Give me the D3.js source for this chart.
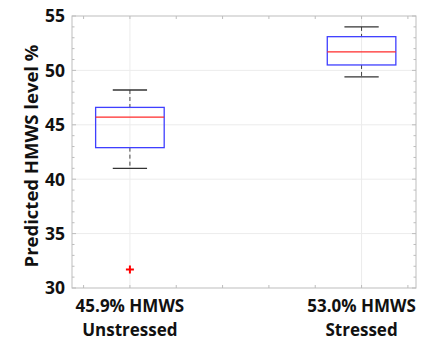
<!DOCTYPE html>
<html>
<head>
<meta charset="utf-8">
<script src="https://cdn.jsdelivr.net/npm/d3@7"></script>
<style>
  body { margin: 0; background: #fff; }
  text { font-family: "Open Sans", sans-serif; font-weight: bold; fill: #111; }
</style>
</head>
<body>
<script>
// Categories (two text lines each)
var groups = ["45.9% HMWS|Unstressed", "53.0% HMWS|Stressed"];
// Box statistics
var whiskerLow  = [41.0, 49.4];
var q1          = [42.9, 50.5];
var medians     = [45.7, 51.7];
var q3          = [46.6, 53.1];
var whiskerHigh = [48.2, 54.0];
var outliers    = [[31.7], []];
var yTicks      = [30, 35, 40, 45, 50, 55];

var width = 422, height = 341;
var margin = {top: 16, right: 6, bottom: 53, left: 72};

var svg = d3.select("body").append("svg")
    .attr("width", width)
    .attr("height", height);

// x is numeric, MATLAB-style: groups sit at 1 and 2
var x = d3.scaleLinear()
    .domain([0.75, 2.235])
    .range([margin.left, width - margin.right]);

var y = d3.scaleLinear()
    .domain([30, 55])
    .range([height - margin.bottom, margin.top]);

var frameColor = "#bdbdbd";
var gridColor = "#ececec";

//grid lines
svg.append("g").selectAll("line")
    .data(yTicks.slice(1, -1))
    .enter().append("line")
      .attr("x1", x.range()[0]).attr("x2", x.range()[1])
      .attr("y1", function(d) { return y(d); })
      .attr("y2", function(d) { return y(d); })
      .attr("stroke", gridColor);

svg.append("g").selectAll("line")
    .data([1, 2])
    .enter().append("line")
      .attr("x1", function(d) { return x(d); })
      .attr("x2", function(d) { return x(d); })
      .attr("y1", y(30)).attr("y2", y(55))
      .attr("stroke", gridColor);

// minor ticks
var yMinor = d3.range(30, 55.01, 1);
var xMinor = d3.range(0.8, 2.21, 0.2);
var ticks = svg.append("g").attr("stroke", frameColor);
yMinor.forEach(function(v) {
  var len = (v % 5 === 0) ? 4 : 2.5;
  ticks.append("line").attr("x1", x.range()[0]).attr("x2", x.range()[0] + len)
      .attr("y1", y(v)).attr("y2", y(v));
  ticks.append("line").attr("x1", x.range()[1]).attr("x2", x.range()[1] - len)
      .attr("y1", y(v)).attr("y2", y(v));
});
xMinor.forEach(function(v) {
  ticks.append("line").attr("x1", x(v)).attr("x2", x(v))
      .attr("y1", y(30)).attr("y2", y(30) - 3);
  ticks.append("line").attr("x1", x(v)).attr("x2", x(v))
      .attr("y1", y(55)).attr("y2", y(55) + 3);
});

// frame
svg.append("rect")
    .attr("x", x.range()[0]).attr("y", y(55))
    .attr("width", x.range()[1] - x.range()[0])
    .attr("height", y(30) - y(55))
    .attr("fill", "none")
    .attr("stroke", frameColor);

// y axis labels
svg.append("g").selectAll("text")
    .data(yTicks)
    .enter().append("text")
      .attr("x", margin.left - 7)
      .attr("y", function(d) { return y(d); })
      .attr("dy", "0.36em")
      .attr("text-anchor", "end")
      .attr("font-size", 17.5)
      .text(function(d) { return d; });

// y title
svg.append("text")
    .attr("transform", "translate(38,156) rotate(-90)")
    .attr("text-anchor", "middle")
    .attr("font-size", 18.5)
    .text("Predicted HMWS level %");

// x labels, one text per line
var lines = [];
groups.forEach(function(g, i) {
  g.split("|").forEach(function(t, j) { lines.push({pos: i + 1, line: j, text: t}); });
});
svg.append("g").selectAll("text")
    .data(lines)
    .enter().append("text")
      .attr("text-anchor", "middle")
      .attr("font-size", 17)
      .attr("x", function(d) { return x(d.pos); })
      .attr("y", function(d) { return 312 + d.line * 23.5; })
      .text(function(d) { return d.text; });

// boxes
var boxHalf = 0.148, capHalf = 0.074;
var boxes = svg.append("g").selectAll("g")
    .data(groups)
    .enter().append("g");

boxes.append("line")
    .attr("x1", function(d, i) { return x(i + 1); })
    .attr("x2", function(d, i) { return x(i + 1); })
    .attr("y1", function(d, i) { return y(whiskerHigh[i]); })
    .attr("y2", function(d, i) { return y(q3[i]); })
    .attr("stroke", "#444").attr("stroke-dasharray", "4,3");
boxes.append("line")
    .attr("x1", function(d, i) { return x(i + 1); })
    .attr("x2", function(d, i) { return x(i + 1); })
    .attr("y1", function(d, i) { return y(q1[i]); })
    .attr("y2", function(d, i) { return y(whiskerLow[i]); })
    .attr("stroke", "#444").attr("stroke-dasharray", "4,3");

[whiskerHigh, whiskerLow].forEach(function(arr) {
  boxes.append("line")
      .attr("x1", function(d, i) { return x(i + 1 - capHalf); })
      .attr("x2", function(d, i) { return x(i + 1 + capHalf); })
      .attr("y1", function(d, i) { return y(arr[i]); })
      .attr("y2", function(d, i) { return y(arr[i]); })
      .attr("stroke", "#333").attr("stroke-width", 1.3);
});

boxes.append("rect")
    .attr("x", function(d, i) { return x(i + 1 - boxHalf); })
    .attr("y", function(d, i) { return y(q3[i]); })
    .attr("width", function(d, i) { return x(i + 1 + boxHalf) - x(i + 1 - boxHalf); })
    .attr("height", function(d, i) { return y(q1[i]) - y(q3[i]); })
    .attr("fill", "none")
    .attr("stroke", "#3f3fff").attr("stroke-width", 1.3);

boxes.append("line")
    .attr("x1", function(d, i) { return x(i + 1 - boxHalf); })
    .attr("x2", function(d, i) { return x(i + 1 + boxHalf); })
    .attr("y1", function(d, i) { return y(medians[i]); })
    .attr("y2", function(d, i) { return y(medians[i]); })
    .attr("stroke", "#ff2a2a").attr("stroke-width", 1.3);

// outliers as red plus signs
boxes.each(function(d, i) {
  d3.select(this).selectAll("path.out")
    .data(outliers[i])
    .enter().append("path")
      .attr("class", "out")
      .attr("d", function(v) {
        var cx = x(i + 1), cy = y(v);
        return "M" + (cx - 4) + "," + cy + "H" + (cx + 4) + "M" + cx + "," + (cy - 4) + "V" + (cy + 4);
      })
      .attr("stroke", "#ff0000").attr("stroke-width", 2);
});
</script>
</body>
</html>
